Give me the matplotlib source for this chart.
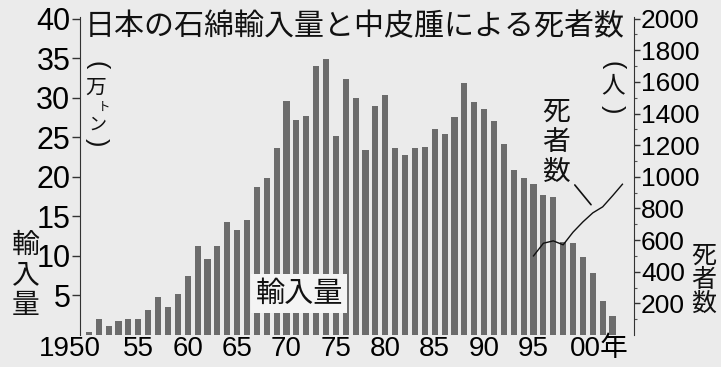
import numpy as np
import matplotlib
matplotlib.use("Agg")
import matplotlib.pyplot as plt
import matplotlib.transforms as mtransforms

# --- Data ---
years = list(range(1950, 2004))
imports = [0.4, 2.0, 1.2, 1.8, 2.0, 2.0, 3.2, 4.8, 3.6, 5.2,
           7.5, 11.3, 9.6, 11.3, 14.3, 13.3, 14.5, 18.7, 19.8, 23.6,
           29.6, 27.2, 27.7, 34.0, 34.9, 25.2, 32.3, 29.9, 23.4, 29.0,
           30.4, 23.6, 22.8, 23.6, 23.8, 26.0, 25.4, 27.5, 31.9, 29.4,
           28.6, 27.0, 24.1, 20.9, 19.9, 19.1, 17.7, 17.5, 11.7, 11.6,
           9.8, 7.8, 4.3, 2.4]
death_years = list(range(1995, 2005))
deaths = [500, 580, 595, 570, 650, 715, 772, 810, 880, 953]

left_ticks = [5, 10, 15, 20, 25, 30, 35, 40]
right_ticks = [200, 400, 600, 800, 1000, 1200, 1400, 1600, 1800, 2000]
x_ticks = [1950, 1955, 1960, 1965, 1970, 1975, 1980, 1985, 1990, 1995, 2000]
x_labels = ["1950", "55", "60", "65", "70", "75", "80", "85", "90", "95", "00年"]

TITLE = "日本の石綿輸入量と中皮腫による死者数"

# --- Style ---
BG = "#ebebeb"
BAR = "#6c6c6c"
JP = ["Noto Sans CJK JP", "DejaVu Sans"]
NUM = ["Liberation Sans", "DejaVu Sans"]
plt.rcParams["font.family"] = JP

fig = plt.figure(figsize=(7.21, 3.67), dpi=100, facecolor=BG)
ax = fig.add_axes([80 / 721, 32 / 367, 554 / 721, 318 / 367])
ax.set_facecolor(BG)

ax.bar(years, imports, width=0.62, color=BAR, edgecolor="none", zorder=2)
ax.set_xlim(1949.1, 2005.17)
ax.set_ylim(0, 40.2)

ax.set_yticks(left_ticks)
ax.set_yticklabels([str(v) for v in left_ticks], family=NUM, fontsize=22)
ax.tick_params(axis="y", direction="out", length=6, width=1, pad=1, color="#333")
ax.set_xticks(x_ticks)
ax.set_xticklabels(x_labels, fontsize=20)
ax.tick_params(axis="x", length=0, pad=1)
for lbl in ax.get_xticklabels():
    lbl.set_fontfamily(["Liberation Sans", "Noto Sans CJK JP"])
# shift first and last tick labels like the newspaper layout
first = ax.get_xticklabels()[0]
first.set_horizontalalignment("right")
first.set_transform(first.get_transform() + mtransforms.ScaledTranslation(12 / 100, 0, fig.dpi_scale_trans))
last = ax.get_xticklabels()[-1]
last.set_horizontalalignment("left")
last.set_transform(last.get_transform() + mtransforms.ScaledTranslation(-13 / 100, 0, fig.dpi_scale_trans))

for s in ["top", "right", "bottom"]:
    ax.spines[s].set_visible(False)
ax.spines["left"].set_color("#333")

# Right axis: deaths
ax2 = ax.twinx()
ax2.plot(death_years, deaths, color="#111", lw=1.0, zorder=3)
ax2.set_ylim(0, 2010)
ax2.set_yticks(right_ticks)
ax2.set_yticklabels([str(v) for v in right_ticks], family=NUM, fontsize=19)
ax2.set_yticks(np.arange(100, 2000, 200), minor=True)
ax2.tick_params(axis="y", which="major", direction="out", length=4, width=1, pad=1, color="#333")
ax2.tick_params(axis="y", which="minor", direction="out", length=2, width=0.8, color="#555")
for s in ["top", "left", "bottom"]:
    ax2.spines[s].set_visible(False)
ax2.spines["right"].set_color("#333")

# Title
ax.text(0.008, 0.968, TITLE, transform=ax.transAxes, ha="left", va="center",
        fontsize=21.6, color="#111")

# Vertical unit labels (stacked characters, parentheses turned sideways)
def vtext(x, y, s, size, step, **kw):
    for i, ch in enumerate(s):
        fig.text(x / 721, 1 - (y + i * step) / 367, ch, ha="center", va="center",
                 fontsize=size, color="#111", **kw)

vtext(97, 65, "(", 18, 0, rotation=-90, family=NUM)
vtext(96, 88, "万", 15, 0)
vtext(104, 107, "ト", 9, 0)
vtext(97, 125, "ン", 13, 0)
vtext(97, 142, ")", 18, 0, rotation=-90, family=NUM)

vtext(613, 65, "(", 18, 0, rotation=-90, family=NUM)
vtext(613, 86, "人", 17, 0)
vtext(613, 109, ")", 18, 0, rotation=-90, family=NUM)

vtext(26, 245, "輸入量", 20, 30)
vtext(704, 256, "死者数", 18, 24)
vtext(556, 112, "死者数", 20, 30)

# Leader line from the in-chart label to the deaths line
ax2.annotate("", xy=(2001.0, 810), xytext=(1999.0, 962),
             arrowprops=dict(arrowstyle="-", color="#111", lw=1.2))

# In-chart label for the bars
ax.text(1971.3, 5.2, "輸入量", ha="center", va="center", fontsize=21, color="#111",
        zorder=5, bbox=dict(boxstyle="square,pad=0.15", fc="#f4f4f4", ec="none"))

fig.savefig("out.png", dpi=100, facecolor=BG)
